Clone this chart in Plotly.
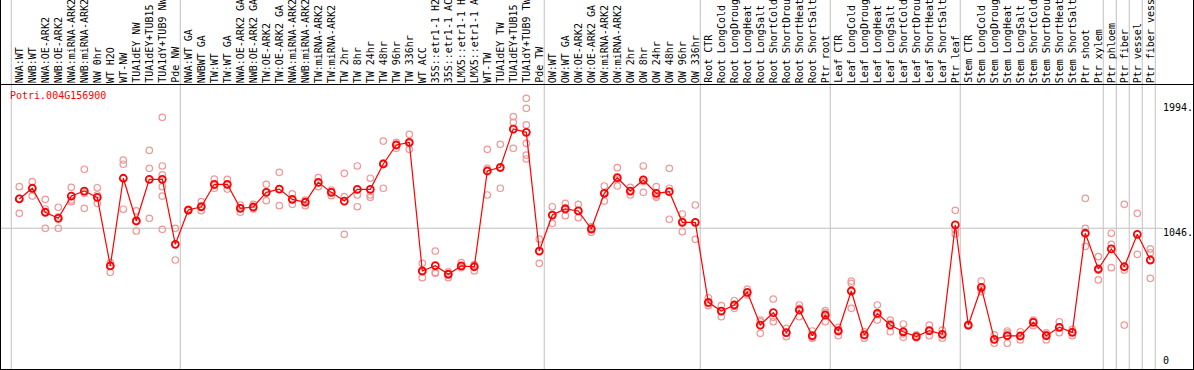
import plotly.graph_objects as go

categories = [
    "NWA:WT", "NWB:WT", "NWA:OE-ARK2", "NWB:OE-ARK2", "NWA:miRNA-ARK2", "NWB:miRNA-ARK2",
    "NW 0hr", "WT H2O", "WT-NW", "TUA1dEY NW", "TUA1dEY+TUB15 NW", "TUA1dY+TUB9 NW", "Pde NW",
    "NWA:WT GA", "NWBWT GA", "TW:WT", "TW:WT GA", "NWA:OE-ARK2 GA", "NWB:OE-ARK2 GA",
    "TW:OE-ARK2", "TW:OE-ARK2 GA", "NWA:miRNA-ARK2 GA", "NWB:miRNA-ARK2 GA", "TW:miRNA-ARK2",
    "TW:miRNA-ARK2 GA", "TW 2hr", "TW 8hr", "TW 24hr", "TW 48hr", "TW 96hr", "TW 336hr",
    "WT ACC", "35S::etr1-1 H2O", "35S::etr1-1 ACC", "LMX5::etr1-1 H2O", "LMX5::etr1-1 ACC",
    "WT-TW", "TUA1dEY TW", "TUA1dEY+TUB15 TW", "TUA1dY+TUB9 TW", "Pde TW",
    "OW:WT", "OW:WT GA", "OW:OE-ARK2", "OW:OE-ARK2 GA", "OW:miRNA-ARK2", "OW:miRNA-ARK2 GA",
    "OW 2hr", "OW 8hr", "OW 24hr", "OW 48hr", "OW 96hr", "OW 336hr",
    "Root CTR", "Root LongCold", "Root LongDrought", "Root LongHeat", "Root LongSalt",
    "Root ShortCold", "Root ShortDrought", "Root ShortHeat", "Root ShortSalt", "Ptr root",
    "Leaf CTR", "Leaf LongCold", "Leaf LongDrought", "Leaf LongHeat", "Leaf LongSalt",
    "Leaf ShortCold", "Leaf ShortDrought", "Leaf ShortHeat", "Leaf ShortSalt", "Ptr leaf",
    "Stem CTR", "Stem LongCold", "Stem LongDrought", "Stem LongHeat", "Stem LongSalt",
    "Stem ShortCold", "Stem ShortDrought", "Stem ShortHeat", "Stem ShortSalt", "Ptr shoot",
    "Ptr xylem", "Ptr phloem", "Ptr fiber", "Ptr vessel", "Ptr fiber vessel",
]

# index of first category of each group (plus end)
group_starts = [0, 13, 41, 53, 63, 73, 84, 85, 86, 87, 88]

means = [
    1268, 1349, 1167, 1121, 1290, 1328, 1280, 760, 1425, 1101, 1417, 1417, 924,
    1184, 1209, 1379, 1379, 1197, 1207, 1318, 1343, 1265, 1243, 1394, 1318, 1252, 1341, 1341,
    1533, 1677, 1697, 722, 762, 697, 760, 754, 1480, 1508, 1798, 1773, 873,
    1146, 1192, 1177, 1040, 1311, 1429, 1328, 1412, 1311, 1323, 1091, 1091,
    484, 418, 464, 560, 312, 406, 254, 426, 231, 388,
    267, 570, 237, 401, 312, 261, 224, 269, 242, 1071,
    312, 598, 204, 231, 229, 333, 231, 295, 257, 1008, 737,
    889, 754, 1000, 805,
]

replicates = [
    [1361, 1273, 1159], [1399, 1349, 1290], [1265, 1192, 1045], [1205, 1133, 1045],
    [1356, 1260, 1247], [1493, 1311, 1197], [1353, 1298, 1235], [785, 760, 712],
    [1563, 1531, 1190], [1177, 1101, 1025], [1637, 1500, 1121],
    [1887, 1518, 1450, 1361, 1290, 1038], [1045, 924, 805],
    [1190, 1184, 1178], [1247, 1203, 1179], [1419, 1370, 1349], [1417, 1377, 1343],
    [1222, 1200, 1167], [1227, 1203, 1192], [1379, 1320, 1255], [1470, 1343, 1217],
    [1306, 1262, 1227], [1260, 1250, 1217], [1429, 1392, 1361], [1336, 1325, 1293],
    [1462, 1285, 1000], [1518, 1298, 1209], [1425, 1298, 1280], [1707, 1540, 1349],
    [1697, 1680, 1652], [1758, 1690, 1644], [780, 715, 671], [873, 712, 704],
    [716, 700, 671], [785, 755, 747], [770, 767, 722], [1644, 1500, 1298],
    [1682, 1500, 1349], [1892, 1849, 1652], [2031, 1955, 1829, 1690, 1601, 1571],
    [964, 875, 780],
    [1209, 1146, 1083], [1235, 1200, 1141], [1227, 1178, 1126], [1058, 1045, 1015],
    [1366, 1315, 1252], [1505, 1416, 1366], [1356, 1330, 1298], [1518, 1400, 1318],
    [1361, 1292, 1280], [1500, 1349, 1114], [1154, 1100, 1020], [1222, 1090, 962],
    [519, 475, 459], [459, 420, 375], [498, 455, 439], [585, 555, 540], [350, 337, 249],
    [509, 372, 337], [287, 251, 224], [464, 439, 375], [267, 214, 212], [421, 406, 337],
    [295, 275, 231], [645, 628, 439], [261, 237, 212], [464, 390, 350], [350, 325, 261],
    [320, 245, 219], [237, 220, 215], [312, 265, 231], [274, 240, 212], [1182, 1033, 1002],
    [318, 313, 305], [646, 583, 565], [237, 201, 174], [267, 252, 174], [261, 227, 199],
    [350, 342, 307], [252, 242, 199], [337, 294, 254], [280, 260, 231], [1273, 1045, 909],
    [830, 727, 654],
    [1008, 924, 747], [1227, 729, 312], [1159, 848], [889, 860, 666],
]

gene = "Potri.004G156900"
tick_values = [1994, 1046, 0]
tick_labels = ["1994.", "1046.", "0"]

W, H = 1194, 370
FONT = "DejaVu Sans Mono"

idx = list(range(len(categories)))
rep_x, rep_y = [], []
for i, reps in enumerate(replicates):
    for v in reps:
        rep_x.append(i)
        rep_y.append(v)

fig = go.Figure()
fig.add_trace(go.Scatter(
    x=rep_x, y=rep_y, mode="markers",
    marker=dict(symbol="circle-open", size=6.5, color="#F09898", line=dict(width=1.2, color="#F09898")),
    hoverinfo="skip", showlegend=False, cliponaxis=False,
))
fig.add_trace(go.Scatter(
    x=idx, y=means, mode="lines+markers",
    line=dict(color="#FF0000", width=1.2),
    marker=dict(symbol="circle-open", size=7, color="#FF0000", line=dict(width=1.8, color="#FF0000")),
    showlegend=False, cliponaxis=False,
))

# pixel geometry
x0px, dx = 19.3, 13.0
xr = [(0 - x0px) / dx, (W - x0px) / dx]
top_px, bot_px = 85, 369
k = 0.1319  # px per unit
zero_px = 366.2
yr = [(zero_px - bot_px) / k, (zero_px - top_px) / k]

shapes = []
# group separator lines (full height)
for g in group_starts:
    xv = g - 0.62
    shapes.append(dict(type="line", xref="x", yref="paper", x0=xv, x1=xv, y0=0, y1=1,
                       line=dict(color="#C0C0C0", width=1), layer="below"))
# horizontal gridline at 1046
shapes.append(dict(type="line", xref="paper", yref="y", x0=0, x1=1163 / W, y0=1046, y1=1046,
                   line=dict(color="#C0C0C0", width=1), layer="below"))
# black frame lines
shapes.append(dict(type="line", xref="paper", yref="paper", x0=0, x1=1,
                   y0=(H - 84.5) / H, y1=(H - 84.5) / H, line=dict(color="black", width=1)))
shapes.append(dict(type="line", xref="paper", yref="paper", x0=0.5 / W, x1=0.5 / W,
                   y0=0, y1=1, line=dict(color="black", width=1)))
shapes.append(dict(type="line", xref="paper", yref="paper", x0=(W - 0.5) / W, x1=(W - 0.5) / W,
                   y0=0, y1=1, line=dict(color="black", width=1)))
shapes.append(dict(type="line", xref="paper", yref="paper", x0=0, x1=1,
                   y0=0.5 / H, y1=0.5 / H, line=dict(color="black", width=1)))

annotations = []
for i, c in enumerate(categories):
    annotations.append(dict(
        x=i, xref="x", y=(H - 84) / H, yref="paper", text=c, textangle=-90,
        xanchor="center", yanchor="bottom", showarrow=False,
        font=dict(family=FONT, size=10, color="black"), borderpad=0,
    ))
annotations.append(dict(
    x=9 / W, xref="paper", y=(H - 89) / H, yref="paper", text=gene,
    xanchor="left", yanchor="top", showarrow=False,
    font=dict(family=FONT, size=10, color="#FF0000"), borderpad=0,
))
for v, t in zip(tick_values, tick_labels):
    if v == 0:
        annotations.append(dict(x=1162 / W, xref="paper", y=v, yref="y", text=t,
                                xanchor="left", yanchor="bottom", yshift=-1, showarrow=False,
                                font=dict(family=FONT, size=10, color="black"), borderpad=0))
    else:
        annotations.append(dict(x=1162 / W, xref="paper", y=v, yref="y", text=t,
                                xanchor="left", yanchor="top", yshift=2, showarrow=False,
                                font=dict(family=FONT, size=10, color="black"), borderpad=0))

fig.update_layout(
    width=W, height=H,
    margin=dict(l=0, r=0, t=0, b=0),
    paper_bgcolor="white", plot_bgcolor="white",
    xaxis=dict(range=xr, visible=False, showgrid=False, zeroline=False, fixedrange=True),
    yaxis=dict(range=yr, domain=[(H - bot_px) / H, (H - top_px) / H], visible=False,
               showgrid=False, zeroline=False, fixedrange=True),
    shapes=shapes, annotations=annotations,
    showlegend=False,
)

fig.write_html(
    "out.html",
    config={"displayModeBar": False},
    post_script="document.body.style.margin='0px';document.body.style.overflow='hidden';",
)
